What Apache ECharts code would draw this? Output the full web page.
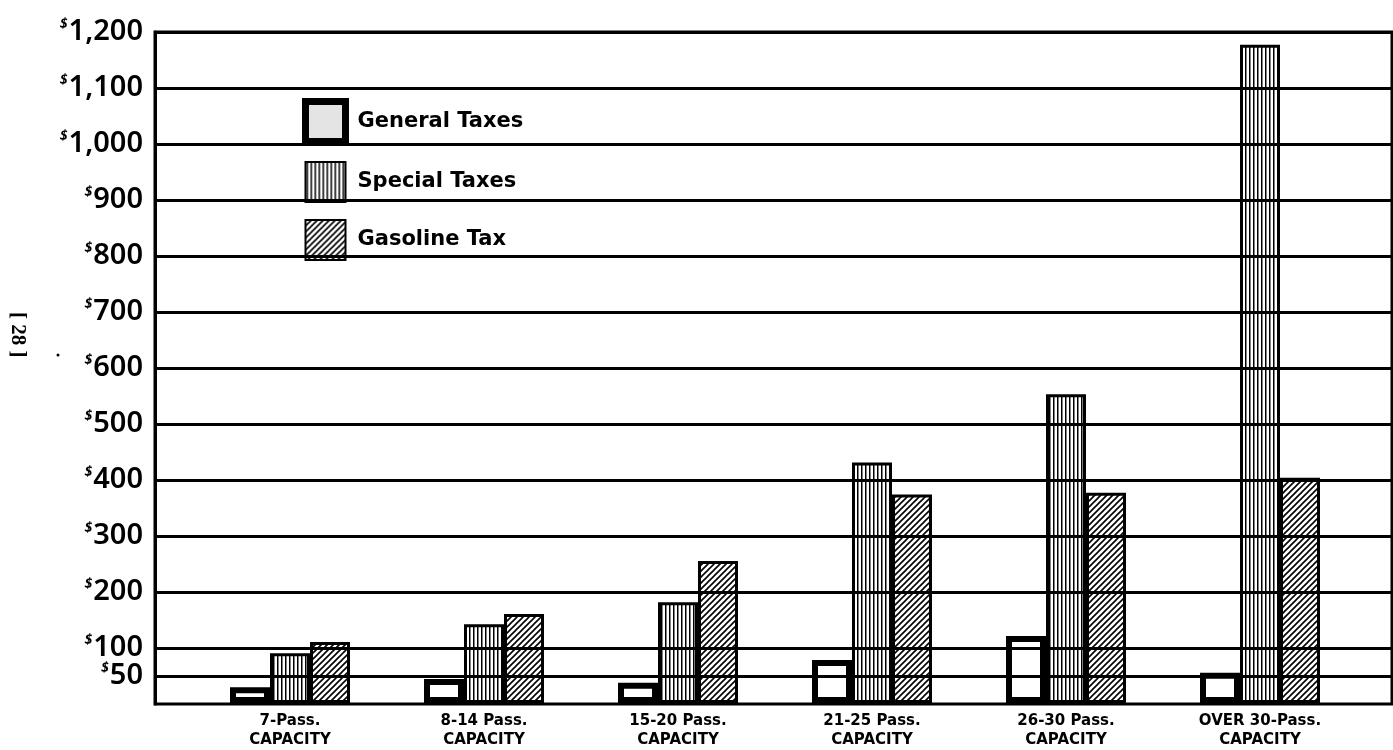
<!DOCTYPE html>
<html>
<head>
<meta charset="utf-8">
<script src="https://cdn.jsdelivr.net/npm/echarts@6/dist/echarts.min.js"></script>
<style>html,body{margin:0;padding:0;background:#fff}#c{width:1393px;height:750px}</style>
</head>
<body>
<div id="c"></div>
<script>
const categories = ['7-Pass.\nCAPACITY', '8-14 Pass.\nCAPACITY', '15-20 Pass.\nCAPACITY', '21-25 Pass.\nCAPACITY', '26-30 Pass.\nCAPACITY', 'OVER 30-Pass.\nCAPACITY'];
const seriesNames = ['General Taxes', 'Special Taxes', 'Gasoline Tax'];
const generalTaxes = [28, 43, 36, 77, 120, 54];
const specialTaxes = [89, 141, 180, 430, 552, 1177];
const gasolineTax = [109, 159, 254, 373, 376, 403];
const tickValues = [50, 100, 200, 300, 400, 500, 600, 700, 800, 900, 1000, 1100, 1200];
const tickLabels = ['50', '100', '200', '300', '400', '500', '600', '700', '800', '900', '1,000', '1,100', '1,200'];

function vPattern() {
  const c = document.createElement('canvas'); c.width = 4; c.height = 4;
  const g = c.getContext('2d');
  g.fillStyle = '#fff'; g.fillRect(0, 0, 4, 4);
  g.fillStyle = '#000'; g.fillRect(1, 0, 1.5, 4);
  return c;
}
function dPattern() {
  const s = 6;
  const c = document.createElement('canvas'); c.width = s; c.height = s;
  const g = c.getContext('2d');
  g.fillStyle = '#fff'; g.fillRect(0, 0, s, s);
  g.strokeStyle = '#000'; g.lineWidth = 1.6;
  g.beginPath();
  g.moveTo(-1, s + 1); g.lineTo(s + 1, -1);
  g.moveTo(-1, 1); g.lineTo(1, -1);
  g.moveTo(s - 1, s + 1); g.lineTo(s + 1, s - 1);
  g.stroke();
  return c;
}

const chart = echarts.init(document.getElementById('c'), null, {renderer: 'canvas'});
const gridTop = 32, gridBottom = 46;
chart.setOption({
  backgroundColor: '#fff',
  animation: false,
  grid: [
    {left: 155, right: 1, top: gridTop, bottom: gridBottom, show: true, borderColor: '#000', borderWidth: 3, backgroundColor: 'transparent'},
    {left: 193, right: 36, top: gridTop, bottom: gridBottom}
  ],
  legend: {
    data: [
      {name: seriesNames[0], itemStyle: {color: '#e4e4e4', borderColor: '#000', borderWidth: 7}},
      {name: seriesNames[1], itemStyle: {borderColor: '#000', borderWidth: 2}},
      {name: seriesNames[2], itemStyle: {borderColor: '#000', borderWidth: 2}}
    ],
    orient: 'vertical',
    left: 302, top: 98, padding: 0,
    itemWidth: 40, itemHeight: 40, itemGap: 16,
    icon: 'rect',
    textStyle: {fontFamily: 'DejaVu Sans', fontSize: 21, fontWeight: 'bold', color: '#000', padding: [0, 0, 0, 7]}
  },
  xAxis: [
    {gridIndex: 0, type: 'value', min: 0, max: 1, show: false},
    {gridIndex: 1, type: 'category', data: categories,
      axisLine: {show: false}, axisTick: {show: false},
      axisLabel: {fontFamily: 'DejaVu Sans', fontWeight: 'bold', fontSize: 15, color: '#000', lineHeight: 19, margin: 9}}
  ],
  yAxis: [
    {gridIndex: 0, type: 'value', min: 0, max: 1200, interval: 50,
      axisLine: {show: true, lineStyle: {color: '#000', width: 3}},
      axisTick: {show: false}, splitLine: {show: false},
      axisLabel: {
        margin: 12,
        formatter: function (v) {
          const i = tickValues.indexOf(v);
          return i < 0 ? '' : '{s|$}{n|' + tickLabels[i] + '}';
        },
        rich: {
          s: {fontFamily: 'Noto Sans', fontSize: 14, fontWeight: 'bold', fontStyle: 'italic', color: '#000', verticalAlign: 'top', padding: [0, 1, 0, 0]},
          n: {fontFamily: 'Noto Sans', fontSize: 29, fontWeight: 600, color: '#000'}
        }
      }},
    {gridIndex: 1, type: 'value', min: 0, max: 1200, show: false}
  ],
  series: [
    {type: 'line', xAxisIndex: 0, yAxisIndex: 0, data: [], z: 1, silent: true,
      markLine: {silent: true, symbol: 'none', label: {show: false},
        lineStyle: {color: '#000', width: 3, type: 'solid'},
        data: tickValues.map(v => ({yAxis: v}))}},
    {name: seriesNames[0], type: 'bar', xAxisIndex: 1, yAxisIndex: 1, data: generalTaxes, barWidth: 40, barGap: '0%', z: 3,
      itemStyle: {color: '#fff', borderColor: '#000', borderWidth: 6}},
    {name: seriesNames[1], type: 'bar', xAxisIndex: 1, yAxisIndex: 1, data: specialTaxes, barWidth: 40, barGap: '0%', z: 3,
      itemStyle: {color: {image: vPattern(), repeat: 'repeat'}, borderColor: '#000', borderWidth: 3}},
    {name: seriesNames[2], type: 'bar', xAxisIndex: 1, yAxisIndex: 1, data: gasolineTax, barWidth: 40, barGap: '0%', z: 3,
      itemStyle: {color: {image: dPattern(), repeat: 'repeat'}, borderColor: '#000', borderWidth: 3}}
  ],
  graphic: [
    {type: 'text', left: 7, top: 312, rotation: -Math.PI / 2,
      style: {text: '[ 28 ]', font: 'bold 21px "Liberation Serif"', fill: '#000'}},
    {type: 'circle', shape: {cx: 58, cy: 355, r: 1.5}, style: {fill: '#000'}}
  ]
});
</script>
</body>
</html>
